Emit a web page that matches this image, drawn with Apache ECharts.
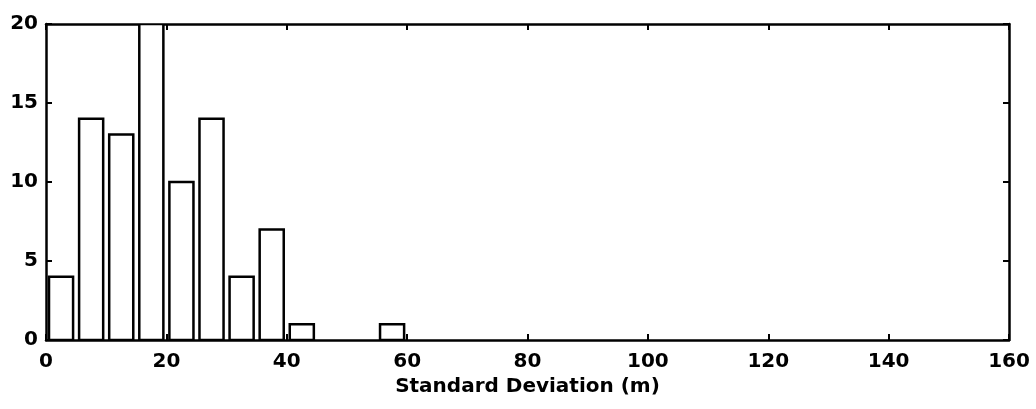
<!DOCTYPE html>
<html>
<head>
<meta charset="utf-8">
<script src="https://cdn.jsdelivr.net/npm/echarts@6/dist/echarts.min.js"></script>
<style>
html,body{margin:0;padding:0;background:#fff;}
#chart{width:1036px;height:409px;}
</style>
</head>
<body>
<div id="chart"></div>
<script>
// Histogram bin centers (m) and counts
const binCenters = [2.5, 7.5, 12.5, 17.5, 22.5, 27.5, 32.5, 37.5, 42.5, 47.5, 52.5, 57.5];
const counts     = [4, 14, 13, 20, 10, 14, 4, 7, 1, 0, 0, 1];
const barWidthUnits = 4;
const xTicks = [0, 20, 40, 60, 80, 100, 120, 140, 160];
const yTicks = [0, 5, 10, 15, 20];
const xLabel = 'Standard Deviation (m)';

const chart = echarts.init(document.getElementById('chart'));
const font = 'DejaVu Sans, sans-serif';
const data = binCenters.map((c, i) => [c, counts[i]]);

const axisCommon = {
  axisLine: { show: true, onZero: false, lineStyle: { color: '#000', width: 2.5 } },
  axisTick: { show: true, inside: true, length: 6, lineStyle: { color: '#000', width: 2 } },
  splitLine: { show: false }
};
const labelStyle = { color: '#000', fontSize: 20, fontFamily: font, fontWeight: 'bold' };

chart.setOption({
  animation: false,
  backgroundColor: '#fff',
  grid: { left: 46, right: 27, top: 24, bottom: 69 },
  xAxis: [
    Object.assign({}, axisCommon, {
      type: 'value', position: 'bottom', min: xTicks[0], max: xTicks[xTicks.length - 1], interval: 20,
      name: xLabel, nameLocation: 'middle', nameGap: 36,
      nameTextStyle: Object.assign({}, labelStyle),
      axisLabel: Object.assign({ margin: 12 }, labelStyle)
    }),
    Object.assign({}, axisCommon, {
      type: 'value', position: 'top', min: xTicks[0], max: xTicks[xTicks.length - 1], interval: 20,
      axisLabel: { show: false }
    })
  ],
  yAxis: [
    Object.assign({}, axisCommon, {
      type: 'value', position: 'left', min: yTicks[0], max: yTicks[yTicks.length - 1], interval: 5,
      axisLabel: Object.assign({ margin: 8 }, labelStyle)
    }),
    Object.assign({}, axisCommon, {
      type: 'value', position: 'right', min: yTicks[0], max: yTicks[yTicks.length - 1], interval: 5,
      axisLabel: { show: false }
    })
  ],
  series: [{
    type: 'custom',
    clip: true,
    data: data,
    renderItem: function (params, api) {
      const c = api.value(0), v = api.value(1);
      if (!v) return null;
      const p0 = api.coord([c - barWidthUnits / 2, v]);
      const p1 = api.coord([c + barWidthUnits / 2, 0]);
      return {
        type: 'rect',
        shape: { x: p0[0], y: p0[1], width: p1[0] - p0[0], height: p1[1] - p0[1] },
        style: { fill: '#fff', stroke: '#000', lineWidth: 2.5 }
      };
    }
  }]
});
</script>
</body>
</html>
